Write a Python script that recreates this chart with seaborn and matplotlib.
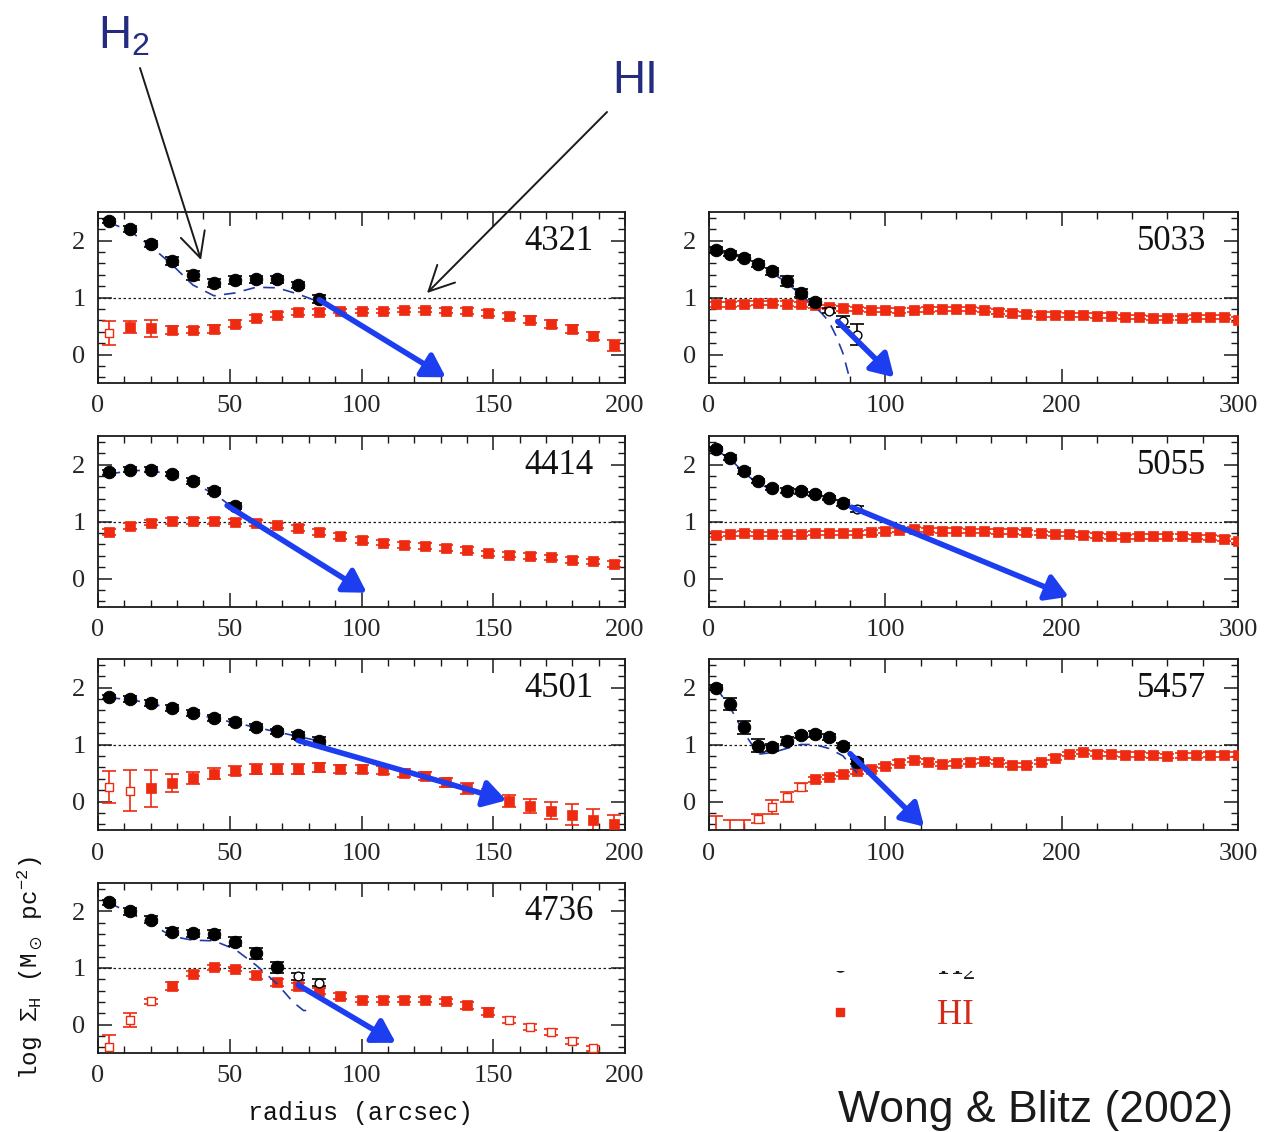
import numpy as np
import pandas as pd
import matplotlib
matplotlib.use("Agg")
import matplotlib.pyplot as plt
import seaborn as sns
from matplotlib.ticker import MultipleLocator, FixedLocator
from matplotlib.patches import FancyArrowPatch, Rectangle

# ---------------- data ----------------
R200 = [4, 12, 20, 28, 36, 44, 52, 60, 68, 76, 84, 92, 100, 108, 116, 124, 132,
        140, 148, 156, 164, 172, 180, 188, 196]
R300 = [4, 12, 20, 28, 36, 44, 52, 60, 68, 76, 84, 92, 100, 108, 116, 124, 132,
        140, 148, 156, 164, 172, 180, 188, 196, 204, 212, 220, 228, 236, 244, 252,
        260, 268, 276, 284, 292, 300]
R_H2 = [4, 12, 20, 28, 36, 44, 52, 60, 68, 76, 84]

# NGC 4321
n4321_h2 = [2.34, 2.20, 1.94, 1.64, 1.39, 1.26, 1.30, 1.32, 1.32, 1.22, 0.98]
n4321_h2_err = [0.04, 0.05, 0.06, 0.07, 0.08, 0.07, 0.07, 0.06, 0.06, 0.05, 0.07]
n4321_h2_open = []
n4321_mod_r = [4, 12, 20, 28, 36, 44, 52, 60, 68, 76, 84]
n4321_mod = [2.32, 2.17, 1.90, 1.58, 1.22, 1.03, 1.08, 1.18, 1.17, 1.06, 0.92]
n4321_hi = [0.38, 0.48, 0.46, 0.43, 0.43, 0.44, 0.54, 0.64, 0.70, 0.74, 0.75, 0.76, 0.76,
            0.76, 0.78, 0.78, 0.77, 0.76, 0.73, 0.68, 0.61, 0.53, 0.45, 0.33, 0.16]
n4321_hi_err = [0.21, 0.11, 0.15, 0.07, 0.06, 0.07, 0.06, 0.05, 0.05, 0.05, 0.05, 0.04, 0.04,
                0.04, 0.04, 0.04, 0.04, 0.05, 0.05, 0.05, 0.06, 0.07, 0.07, 0.07, 0.10]
n4321_hi_open = [0]
n4321_arrow = [(84, 0.96), (132, -0.40)]

# NGC 4414
n4414_h2 = [1.86, 1.91, 1.91, 1.83, 1.71, 1.54, 1.27]
n4414_h2_err = [0.04, 0.04, 0.04, 0.04, 0.05, 0.05, 0.05]
n4414_h2_open = []
n4414_mod_r = [4, 12, 20, 28, 36, 44, 52]
n4414_mod = [1.83, 1.89, 1.90, 1.81, 1.67, 1.49, 1.22]
n4414_hi = [0.81, 0.92, 0.98, 1.01, 1.01, 1.01, 1.00, 0.97, 0.93, 0.88, 0.82, 0.74, 0.68,
            0.63, 0.59, 0.57, 0.54, 0.50, 0.44, 0.42, 0.40, 0.37, 0.33, 0.30, 0.26]
n4414_hi_err = [0.05] * 25
n4414_hi_open = []
n4414_arrow = [(49, 1.28), (102, -0.25)]

# NGC 4501
n4501_h2 = [1.83, 1.80, 1.73, 1.64, 1.55, 1.47, 1.39, 1.31, 1.23, 1.16, 1.07]
n4501_h2_err = [0.04, 0.05, 0.05, 0.05, 0.05, 0.05, 0.05, 0.05, 0.05, 0.06, 0.07]
n4501_h2_open = []
n4501_mod_r = [4, 12, 20, 28, 36, 44, 52, 60, 68, 76, 84]
n4501_mod = [1.82, 1.79, 1.72, 1.63, 1.55, 1.46, 1.38, 1.30, 1.22, 1.14, 1.06]
n4501_hi = [0.25, 0.19, 0.23, 0.33, 0.41, 0.49, 0.54, 0.57, 0.57, 0.57, 0.60, 0.57, 0.57,
            0.56, 0.50, 0.44, 0.34, 0.23, 0.12, 0.01, -0.08, -0.16, -0.23, -0.32, -0.39]
n4501_hi_err = [0.28, 0.36, 0.32, 0.16, 0.11, 0.09, 0.08, 0.08, 0.08, 0.08, 0.08, 0.07, 0.07,
                0.07, 0.07, 0.07, 0.08, 0.10, 0.10, 0.11, 0.13, 0.15, 0.18, 0.18, 0.15]
n4501_hi_open = [0, 1]
n4501_arrow = [(76, 1.07), (155, 0.02)]

# NGC 4736
n4736_h2 = [2.16, 2.00, 1.85, 1.64, 1.61, 1.60, 1.46, 1.26, 1.01, 0.85, 0.74]
n4736_h2_err = [0.04, 0.06, 0.06, 0.06, 0.06, 0.07, 0.08, 0.10, 0.10, 0.06, 0.06]
n4736_h2_open = [9, 10]
n4736_mod_r = [4, 12, 20, 28, 36, 44, 52, 60, 68, 74, 78, 82]
n4736_mod = [2.15, 1.98, 1.78, 1.56, 1.49, 1.48, 1.33, 1.05, 0.72, 0.40, 0.25, 0.25]
n4736_hi = [-0.39, 0.08, 0.41, 0.68, 0.90, 1.01, 0.98, 0.87, 0.75, 0.68, 0.59, 0.50, 0.44,
            0.44, 0.44, 0.44, 0.41, 0.34, 0.23, 0.08, -0.04, -0.13, -0.29, -0.42]
n4736_hi_err = [0.20, 0.12, 0.05, 0.07, 0.05, 0.04, 0.04, 0.06, 0.06, 0.06, 0.05, 0.05,
                0.04, 0.04, 0.04, 0.04, 0.05, 0.06, 0.06, 0.05, 0.05, 0.05, 0.06, 0.05]
n4736_hi_open = [0, 1, 2, 19, 20, 21, 22, 23]
n4736_arrow = [(76, 0.70), (113, -0.32)]

# NGC 5033
n5033_h2 = [1.83, 1.77, 1.70, 1.59, 1.46, 1.29, 1.08, 0.92, 0.77, 0.58, 0.35]
n5033_h2_err = [0.05, 0.05, 0.05, 0.05, 0.06, 0.08, 0.07, 0.06, 0.05, 0.09, 0.18]
n5033_h2_open = [8, 9, 10]
n5033_mod_r = [4, 12, 20, 28, 36, 44, 52, 60, 64, 68, 72, 76, 80]
n5033_mod = [1.82, 1.76, 1.69, 1.57, 1.43, 1.26, 1.05, 0.84, 0.72, 0.58, 0.33, 0.02, -0.45]
n5033_hi = [0.88, 0.88, 0.89, 0.90, 0.90, 0.89, 0.88, 0.86, 0.83, 0.81, 0.80, 0.78, 0.78,
            0.77, 0.78, 0.79, 0.80, 0.80, 0.80, 0.78, 0.75, 0.72, 0.71, 0.70, 0.70, 0.69,
            0.69, 0.68, 0.68, 0.66, 0.66, 0.64, 0.64, 0.64, 0.66, 0.66, 0.66, 0.61]
n5033_hi_err = [0.04] * 38
n5033_hi_open = []
n5033_arrow = [(73, 0.58), (105, -0.40)]

# NGC 5055
n5055_h2 = [2.27, 2.12, 1.88, 1.71, 1.59, 1.54, 1.53, 1.48, 1.41, 1.33, 1.22]
n5055_h2_err = [0.04, 0.04, 0.05, 0.04, 0.04, 0.04, 0.04, 0.04, 0.04, 0.05, 0.06]
n5055_h2_open = [10]
n5055_mod_r = [4, 12, 20, 28, 36, 44, 52, 60, 68, 76, 84]
n5055_mod = [2.25, 2.10, 1.85, 1.66, 1.56, 1.51, 1.48, 1.44, 1.37, 1.28, 1.20]
n5055_hi = [0.77, 0.78, 0.79, 0.78, 0.78, 0.78, 0.78, 0.80, 0.80, 0.80, 0.80, 0.81, 0.84,
            0.85, 0.86, 0.85, 0.84, 0.84, 0.83, 0.83, 0.82, 0.82, 0.81, 0.80, 0.78, 0.78,
            0.77, 0.75, 0.74, 0.73, 0.74, 0.74, 0.74, 0.74, 0.73, 0.72, 0.70, 0.66]
n5055_hi_err = [0.04] * 38
n5055_hi_open = []
n5055_arrow = [(81, 1.25), (204, -0.32)]

# NGC 5457
n5457_h2 = [2.00, 1.71, 1.30, 0.98, 0.95, 1.07, 1.16, 1.19, 1.13, 0.98, 0.70]
n5457_h2_err = [0.05, 0.10, 0.12, 0.11, 0.06, 0.06, 0.05, 0.05, 0.05, 0.05, 0.05]
n5457_h2_open = []
n5457_mod_r = [4, 12, 20, 28, 36, 44, 52, 60, 68, 76, 84]
n5457_mod = [2.00, 1.65, 1.20, 0.83, 0.86, 0.93, 1.00, 1.00, 0.93, 0.80, 0.50]
n5457_hi = [-0.25, -0.33, -0.33, -0.30, -0.10, 0.08, 0.25, 0.39, 0.43, 0.48, 0.53, 0.57,
            0.62, 0.68, 0.73, 0.70, 0.66, 0.67, 0.70, 0.71, 0.69, 0.64, 0.64, 0.69, 0.77,
            0.83, 0.87, 0.84, 0.83, 0.82, 0.82, 0.81, 0.80, 0.81, 0.81, 0.82, 0.82, 0.82]
n5457_hi_err = [0.0, 0.0, 0.0, 0.08, 0.12, 0.08, 0.07] + [0.04] * 31
n5457_hi_open = [3, 4, 5, 6]
n5457_hi_limit = [0, 1, 2]
n5457_arrow = [(80, 0.84), (122, -0.44)]

# ---------------- style ----------------
sns.set_theme(style="ticks")
plt.rcParams.update({
    "font.family": ["Liberation Serif", "DejaVu Serif"],
    "mathtext.fontset": "stix",
    "mathtext.default": "regular",
    "axes.linewidth": 1.3,
    "axes.edgecolor": "#1a1a1a",
})

BLACK = "#000000"
RED = "#ee2a10"
MODEL_BLUE = "#1f3aa8"
ARROW_BLUE = "#1c3ef0"
NAVY = "#232c7e"

W, H = 1278, 1132
fig = plt.figure(figsize=(W / 100, H / 100), dpi=100)


def fx(px):
    return px / W


def fy(py):
    return 1 - py / H


def make_ax(left_px, top_px, right_px, bottom_px):
    return fig.add_axes([fx(left_px), fy(bottom_px),
                         fx(right_px) - fx(left_px), (bottom_px - top_px) / H])


def panel(ax, label, xmax, r_hi, h2, h2_err, h2_open, mod_r, mod, hi, hi_err,
          hi_open, arrow, hi_limit=()):
    r_h2 = R_H2[:len(h2)]
    r_hi = r_hi[:len(hi)]
    ax.axhline(1, color="k", lw=0.9, ls=(0, (2, 2)), zorder=1)

    # HI
    hi_df = pd.DataFrame({"r": r_hi, "v": hi, "e": hi_err})
    hi_df["kind"] = "filled"
    hi_df.loc[list(hi_open), "kind"] = "open"
    hi_df.loc[list(hi_limit), "kind"] = "limit"
    normal = hi_df[hi_df.kind != "limit"]
    ax.errorbar(normal.r, normal.v, yerr=normal.e, fmt="none", ecolor=RED,
                elinewidth=1.2, capsize=5, capthick=1.2, zorder=2)
    lim = hi_df[hi_df.kind == "limit"]
    if len(lim):
        ax.errorbar(lim.r, lim.v, yerr=[lim.v + 1.0, np.zeros(len(lim))], fmt="none",
                    ecolor=RED, elinewidth=1.2, capsize=5, capthick=1.2, zorder=2)
    f = hi_df[hi_df.kind == "filled"]
    sns.scatterplot(data=f, x="r", y="v", marker="s", s=48, color=RED,
                    edgecolor=RED, linewidth=0.5, ax=ax, zorder=3, legend=False)
    o = hi_df[hi_df.kind == "open"]
    if len(o):
        sns.scatterplot(data=o, x="r", y="v", marker="s", s=26, facecolor="white",
                        edgecolor=RED, linewidth=1.0, ax=ax, zorder=3, legend=False)

    # model
    mdf = pd.DataFrame({"r": mod_r, "v": mod})
    sns.lineplot(data=mdf, x="r", y="v", sort=False, estimator=None, color=MODEL_BLUE,
                 lw=1.2, dashes=False, ax=ax, zorder=3)
    ax.lines[-1].set_linestyle((0, (7, 5)))

    # H2
    h2_df = pd.DataFrame({"r": r_h2, "v": h2, "e": h2_err})
    h2_df["open"] = False
    h2_df.loc[list(h2_open), "open"] = True
    ax.errorbar(h2_df.r, h2_df.v, yerr=h2_df.e, fmt="none", ecolor=BLACK,
                elinewidth=1.2, capsize=5, capthick=1.2, zorder=4)
    sns.scatterplot(data=h2_df[~h2_df.open], x="r", y="v", marker="o", s=80,
                    color=BLACK, edgecolor=BLACK, ax=ax, zorder=5, legend=False)
    if h2_df.open.any():
        sns.scatterplot(data=h2_df[h2_df.open], x="r", y="v", marker="o", s=40,
                        facecolor="white", edgecolor=BLACK, linewidth=1.0, ax=ax,
                        zorder=5, legend=False)

    # arrow
    ax.annotate("", xy=arrow[1], xytext=arrow[0],
                arrowprops=dict(arrowstyle="-|>,head_length=0.75,head_width=0.45",
                                mutation_scale=18, lw=4, color=ARROW_BLUE,
                                shrinkA=0, shrinkB=0), zorder=6)

    ax.set_xlim(0, xmax)
    ax.set_ylim(-0.5, 2.5)
    ax.set_xlabel("")
    ax.set_ylabel("")
    ax.yaxis.set_major_locator(FixedLocator([0, 1, 2]))
    ax.yaxis.set_minor_locator(MultipleLocator(0.2))
    if xmax == 200:
        ax.xaxis.set_major_locator(MultipleLocator(50))
        ax.xaxis.set_minor_locator(MultipleLocator(10))
    else:
        ax.xaxis.set_major_locator(MultipleLocator(100))
        ax.xaxis.set_minor_locator(MultipleLocator(20))
    ax.tick_params(which="both", direction="in", top=True, right=True,
                   color="#1a1a1a")
    ax.tick_params(which="major", length=10, width=1.1, labelsize=19, pad=9)
    ax.tick_params(which="minor", length=5, width=1.0)
    for t in ax.get_xticklabels() + ax.get_yticklabels():
        t.set_fontfamily(["Liberation Serif", "DejaVu Serif"])
    ax.text(0.94, 0.78, label, transform=ax.transAxes, ha="right", va="baseline",
            fontsize=25, color="#111111", family=["Liberation Serif"])


L = (98, 625)
Rt = (709, 1238)
rows = [(212, 383), (436, 607), (659, 830), (883, 1053)]

ax1 = make_ax(L[0], rows[0][0], L[1], rows[0][1])
panel(ax1, "4321", 200, R200, n4321_h2, n4321_h2_err, n4321_h2_open, n4321_mod_r,
      n4321_mod, n4321_hi, n4321_hi_err, n4321_hi_open, n4321_arrow)
ax2 = make_ax(Rt[0], rows[0][0], Rt[1], rows[0][1])
panel(ax2, "5033", 300, R300, n5033_h2, n5033_h2_err, n5033_h2_open, n5033_mod_r,
      n5033_mod, n5033_hi, n5033_hi_err, n5033_hi_open, n5033_arrow)
ax3 = make_ax(L[0], rows[1][0], L[1], rows[1][1])
panel(ax3, "4414", 200, R200, n4414_h2, n4414_h2_err, n4414_h2_open, n4414_mod_r,
      n4414_mod, n4414_hi, n4414_hi_err, n4414_hi_open, n4414_arrow)
ax4 = make_ax(Rt[0], rows[1][0], Rt[1], rows[1][1])
panel(ax4, "5055", 300, R300, n5055_h2, n5055_h2_err, n5055_h2_open, n5055_mod_r,
      n5055_mod, n5055_hi, n5055_hi_err, n5055_hi_open, n5055_arrow)
ax5 = make_ax(L[0], rows[2][0], L[1], rows[2][1])
panel(ax5, "4501", 200, R200, n4501_h2, n4501_h2_err, n4501_h2_open, n4501_mod_r,
      n4501_mod, n4501_hi, n4501_hi_err, n4501_hi_open, n4501_arrow)
ax6 = make_ax(Rt[0], rows[2][0], Rt[1], rows[2][1])
panel(ax6, "5457", 300, R300, n5457_h2, n5457_h2_err, n5457_h2_open, n5457_mod_r,
      n5457_mod, n5457_hi, n5457_hi_err, n5457_hi_open, n5457_arrow,
      hi_limit=n5457_hi_limit)
ax7 = make_ax(L[0], rows[3][0], L[1], rows[3][1])
panel(ax7, "4736", 200, R200, n4736_h2, n4736_h2_err, n4736_h2_open, n4736_mod_r,
      n4736_mod, n4736_hi, n4736_hi_err, n4736_hi_open, n4736_arrow)

# axis labels
fig.text(fx(360), fy(1113), "radius (arcsec)", ha="center", va="center",
         fontsize=18, family=["Liberation Mono", "DejaVu Sans Mono"], color="#111111")
fig.text(fx(30), fy(968), r"log $\Sigma_H$ ($M_\odot$ pc$^{-2}$)", ha="center",
         va="center", rotation=90, fontsize=17.5,
         family=["Liberation Mono", "DejaVu Sans Mono"], color="#111111")

# top annotations
fig.text(fx(98), fy(48), r"H$_2$", ha="left", va="baseline", fontsize=33,
         color=NAVY, family=["Liberation Sans"])
fig.text(fx(612), fy(93), "HI", ha="left", va="baseline", fontsize=33,
         color=NAVY, family=["Liberation Sans"])
for (x0, y0), (x1, y1) in [((140, 68), (201, 260)), ((607, 112), (427, 293))]:
    fig.add_artist(FancyArrowPatch((fx(x0), fy(y0)), (fx(x1), fy(y1)),
                                   transform=fig.transFigure,
                                   arrowstyle="->,head_length=0.9,head_width=0.45",
                                   mutation_scale=20, lw=1.4, color="k",
                                   shrinkA=0, shrinkB=0))

# partial legend (top part hidden, as in the reference)
fig.text(fx(937), fy(975), r"H$_2$", ha="left", va="baseline", fontsize=25,
         color="k", family=["Liberation Serif"])
fig.add_artist(plt.Line2D([fx(840)], [fy(966)], marker="o", markersize=8,
                          color="k", transform=fig.transFigure))
fig.add_artist(Rectangle((fx(790), fy(971)), fx(260), (971 - 860) / H,
                         transform=fig.transFigure, facecolor="white",
                         edgecolor="none", zorder=10))
fig.add_artist(plt.Line2D([fx(840)], [fy(1012)], marker="s", markersize=6,
                          color=RED, transform=fig.transFigure))
fig.text(fx(937), fy(1024), "HI", ha="left", va="baseline", fontsize=25,
         color="#d42a1a", family=["Liberation Serif"])

fig.text(fx(838), fy(1122), "Wong & Blitz (2002)", ha="left", va="baseline",
         fontsize=32, color="k", family=["Liberation Sans"])

fig.savefig("out.png", dpi=100)
